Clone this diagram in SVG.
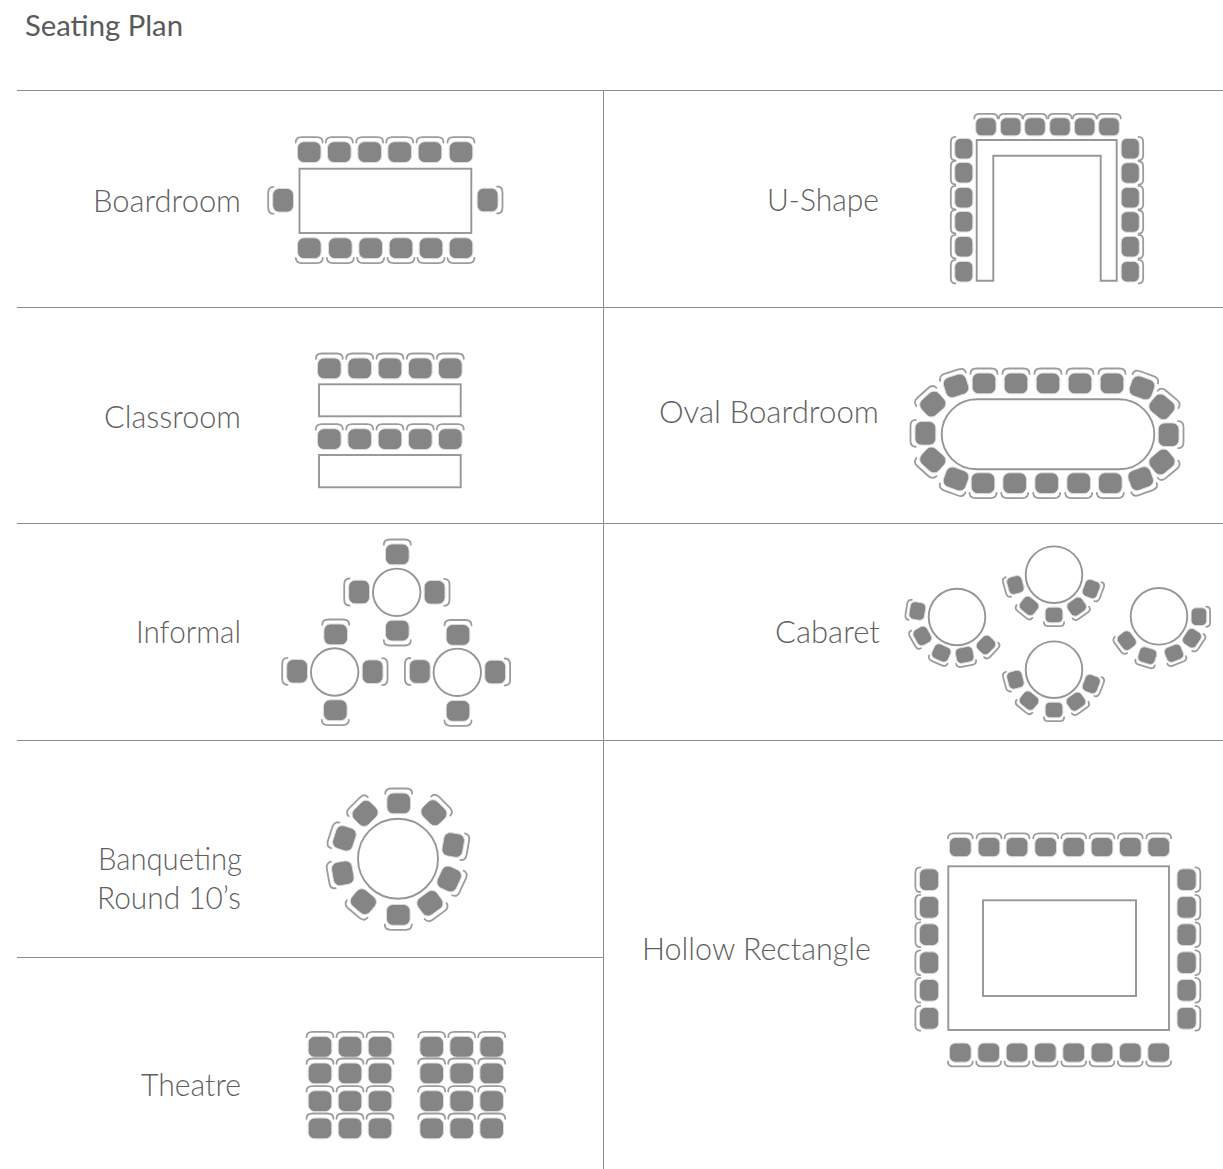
<svg xmlns="http://www.w3.org/2000/svg" width="1223" height="1169" viewBox="0 0 1223 1169">
<style>
.l{font-family:"Lato","Liberation Sans",sans-serif;font-weight:300;font-size:31px;fill:#5f5f5f}
.t{font-family:"Lato","Liberation Sans",sans-serif;font-weight:400;font-size:29px;fill:#5a5a5a}
.g{stroke:#8c8c8c;stroke-width:1;fill:none}
.o{stroke:#969696;stroke-width:1.9;fill:#fff}
.a{stroke:#9c9c9c;stroke-width:1.8;fill:none;stroke-linecap:round;vector-effect:non-scaling-stroke}
.b{fill:#858585;stroke:#dcdcdc;stroke-width:1;vector-effect:non-scaling-stroke}
</style>
<defs>
<g id="s"><rect class="b" x="-11.800" y="-10.300" width="23.600" height="20.800" rx="6.500"/><path class="a" d="M-13.500,-9.500C-13.500,-12.800 -11,-14.800 -7.500,-14.800H7.500C11,-14.800 13.500,-12.800 13.500,-9.500"/></g>
</defs>
<rect width="1223" height="1169" fill="#fff"/>
<text class="t" x="25" y="36" textLength="158" lengthAdjust="spacingAndGlyphs">Seating Plan</text>
<g id="grid">
<path class="g" d="M17,90.500H1223M17,307.500H1223M17,523.500H1223M17,740.500H1223M17,957.500H603.500M603.500,90V1169"/>
</g>
<g id="boardroom">
<text class="l" x="93" y="212" textLength="148" lengthAdjust="spacingAndGlyphs">Boardroom</text>
<rect class="o" x="299.500" y="168.700" width="171.800" height="64.300"/>
<use href="#s" x="309.200" y="152"/><use href="#s" x="339.300" y="152"/><use href="#s" x="369.700" y="152"/><use href="#s" x="399.700" y="152"/><use href="#s" x="430" y="152"/><use href="#s" x="461" y="152"/>
<use href="#s" transform="translate(309.300,248.300) rotate(180)"/><use href="#s" transform="translate(340.300,248.300) rotate(180)"/><use href="#s" transform="translate(370.700,248.300) rotate(180)"/><use href="#s" transform="translate(401,248.300) rotate(180)"/><use href="#s" transform="translate(431,248.300) rotate(180)"/><use href="#s" transform="translate(461,248.300) rotate(180)"/>
<use href="#s" transform="translate(283,200.300) rotate(-90)"/><use href="#s" transform="translate(487.700,200) rotate(90)"/>
</g>
<g id="classroom">
<text class="l" x="104" y="428" textLength="137" lengthAdjust="spacingAndGlyphs">Classroom</text>
<rect class="o" x="319" y="384.300" width="141.700" height="32"/>
<rect class="o" x="319" y="455" width="141.700" height="32.300"/>
<use href="#s" x="329.300" y="368.300"/><use href="#s" x="359.700" y="368.300"/><use href="#s" x="390" y="368.300"/><use href="#s" x="420.300" y="368.300"/><use href="#s" x="450.300" y="368.300"/>
<use href="#s" x="329.300" y="439"/><use href="#s" x="359.700" y="439"/><use href="#s" x="390" y="439"/><use href="#s" x="420.300" y="439"/><use href="#s" x="450.300" y="439"/>
</g>
<g id="informal">
<text class="l" x="136" y="643" textLength="105" lengthAdjust="spacingAndGlyphs">Informal</text>
<circle class="o" cx="396.700" cy="592.300" r="23.700"/><circle class="o" cx="334.700" cy="672" r="23.700"/><circle class="o" cx="457.300" cy="672.300" r="23.700"/>
<use href="#s" x="397.300" y="554.300"/><use href="#s" transform="translate(359,592) rotate(-90)"/><use href="#s" transform="translate(434.700,592.300) rotate(90)"/><use href="#s" transform="translate(397.300,630.700) rotate(180)"/>
<use href="#s" x="335.700" y="634.300"/><use href="#s" transform="translate(297,671.300) rotate(-90)"/><use href="#s" transform="translate(372.700,671.700) rotate(90)"/><use href="#s" transform="translate(335.300,710.300) rotate(180)"/>
<use href="#s" x="458" y="634.800"/><use href="#s" transform="translate(419.700,671.500) rotate(-90)"/><use href="#s" transform="translate(495.300,672) rotate(90)"/><use href="#s" transform="translate(458,711) rotate(180)"/>
</g>
<g id="banqueting">
<text class="l" x="98" y="870" textLength="144" lengthAdjust="spacingAndGlyphs">Banqueting</text>
<text class="l" x="97" y="909" textLength="144" lengthAdjust="spacingAndGlyphs">Round 10’s</text>
<circle class="o" cx="398" cy="858.700" r="40"/>
<use href="#s" x="398.700" y="803.300"/><use href="#s" transform="translate(434,812.700) rotate(45)"/><use href="#s" transform="translate(453.300,845) rotate(100)"/><use href="#s" transform="translate(449.300,879) rotate(115)"/><use href="#s" transform="translate(430,903.300) rotate(144)"/><use href="#s" transform="translate(398.300,915) rotate(180)"/><use href="#s" transform="translate(363.300,901.700) rotate(-140)"/><use href="#s" transform="translate(342.700,873.300) rotate(-100)"/><use href="#s" transform="translate(344.300,838.300) rotate(-72)"/><use href="#s" transform="translate(365,813.300) rotate(-45)"/>
</g>
<g id="theatre">
<text class="l" x="141" y="1096" textLength="100" lengthAdjust="spacingAndGlyphs">Theatre</text>
<use href="#s" x="320" y="1046.700"/><use href="#s" x="350" y="1046.700"/><use href="#s" x="380" y="1046.700"/><use href="#s" x="431.700" y="1046.700"/><use href="#s" x="461.700" y="1046.700"/><use href="#s" x="491.700" y="1046.700"/>
<use href="#s" x="320" y="1073.300"/><use href="#s" x="350" y="1073.300"/><use href="#s" x="380" y="1073.300"/><use href="#s" x="431.700" y="1073.300"/><use href="#s" x="461.700" y="1073.300"/><use href="#s" x="491.700" y="1073.300"/>
<use href="#s" x="320" y="1101"/><use href="#s" x="350" y="1101"/><use href="#s" x="380" y="1101"/><use href="#s" x="431.700" y="1101"/><use href="#s" x="461.700" y="1101"/><use href="#s" x="491.700" y="1101"/>
<use href="#s" x="320" y="1128.300"/><use href="#s" x="350" y="1128.300"/><use href="#s" x="380" y="1128.300"/><use href="#s" x="431.700" y="1128.300"/><use href="#s" x="461.700" y="1128.300"/><use href="#s" x="491.700" y="1128.300"/>
</g>
<g id="u-shape">
<text class="l" x="767" y="211" textLength="112" lengthAdjust="spacingAndGlyphs">U-Shape</text>
<path class="o" d="M976.700,280.700V140H1116.700V280.700H1100.700V155.700H993.300V280.700Z"/>
<use href="#s" transform="translate(986,126.700) scale(.87)"/><use href="#s" transform="translate(1010.700,126.700) scale(.87)"/><use href="#s" transform="translate(1035,126.700) scale(.87)"/><use href="#s" transform="translate(1060,126.700) scale(.87)"/><use href="#s" transform="translate(1084.700,126.700) scale(.87)"/><use href="#s" transform="translate(1109,126.700) scale(.87)"/>
<use href="#s" transform="translate(963.700,148.700) rotate(-90) scale(.87)"/><use href="#s" transform="translate(963.700,172.700) rotate(-90) scale(.87)"/><use href="#s" transform="translate(963.700,197.700) rotate(-90) scale(.87)"/><use href="#s" transform="translate(963.700,221.700) rotate(-90) scale(.87)"/><use href="#s" transform="translate(963.700,246.700) rotate(-90) scale(.87)"/><use href="#s" transform="translate(963.700,271.700) rotate(-90) scale(.87)"/>
<use href="#s" transform="translate(1130.300,148.700) rotate(90) scale(.87)"/><use href="#s" transform="translate(1130.300,173) rotate(90) scale(.87)"/><use href="#s" transform="translate(1130.300,197.700) rotate(90) scale(.87)"/><use href="#s" transform="translate(1130.300,222) rotate(90) scale(.87)"/><use href="#s" transform="translate(1130.300,246.700) rotate(90) scale(.87)"/><use href="#s" transform="translate(1130.300,271.700) rotate(90) scale(.87)"/>
</g>
<g id="oval-boardroom">
<text class="l" x="659" y="423" textLength="220" lengthAdjust="spacingAndGlyphs">Oval Boardroom</text>
<rect class="o" x="941.700" y="399.300" width="212.600" height="70" rx="35"/>
<use href="#s" x="984" y="383.300"/><use href="#s" x="1016" y="383.300"/><use href="#s" x="1048" y="383.300"/><use href="#s" x="1080" y="383.300"/><use href="#s" x="1112" y="383.300"/>
<use href="#s" transform="translate(983,483.300) rotate(180)"/><use href="#s" transform="translate(1014.700,483.300) rotate(180)"/><use href="#s" transform="translate(1046.700,483.300) rotate(180)"/><use href="#s" transform="translate(1078.700,483.300) rotate(180)"/><use href="#s" transform="translate(1110.300,483.300) rotate(180)"/>
<use href="#s" transform="translate(925.300,433.300) rotate(-90)"/><use href="#s" transform="translate(1168.700,434.700) rotate(90)"/>
<use href="#s" transform="translate(956,385.700) rotate(-18)"/><use href="#s" transform="translate(932.700,404) rotate(-42)"/><use href="#s" transform="translate(932.700,460) rotate(-138)"/><use href="#s" transform="translate(956,479) rotate(-160)"/>
<use href="#s" transform="translate(1142,387.700) rotate(20)"/><use href="#s" transform="translate(1162,406.700) rotate(40)"/><use href="#s" transform="translate(1162,462) rotate(140)"/><use href="#s" transform="translate(1140.700,478.700) rotate(160)"/>
</g>
<g id="cabaret">
<text class="l" x="775" y="643" textLength="105" lengthAdjust="spacingAndGlyphs">Cabaret</text>
<circle class="o" cx="957" cy="617" r="28.300"/><circle class="o" cx="1054" cy="574.700" r="28.300"/><circle class="o" cx="1159" cy="616.300" r="28.300"/><circle class="o" cx="1054" cy="669.700" r="28.300"/>
<use href="#s" transform="translate(1015.300,585) rotate(-105) scale(.75)"/><use href="#s" transform="translate(1029,606) rotate(-141) scale(.75)"/><use href="#s" transform="translate(1054,615) rotate(180) scale(.75)"/><use href="#s" transform="translate(1076.700,606.700) rotate(145) scale(.75)"/><use href="#s" transform="translate(1091.300,589) rotate(111) scale(.75)"/>
<use href="#s" transform="translate(1015.300,679.700) rotate(-105) scale(.75)"/><use href="#s" transform="translate(1029,700.700) rotate(-141) scale(.75)"/><use href="#s" transform="translate(1054,710) rotate(180) scale(.75)"/><use href="#s" transform="translate(1076,701.700) rotate(145) scale(.75)"/><use href="#s" transform="translate(1091.300,684) rotate(111) scale(.75)"/>
<use href="#s" transform="translate(917.300,611) rotate(-81) scale(.75)"/><use href="#s" transform="translate(922.300,636) rotate(-119) scale(.75)"/><use href="#s" transform="translate(941.300,653) rotate(-156) scale(.75)"/><use href="#s" transform="translate(964.700,655) rotate(169) scale(.75)"/><use href="#s" transform="translate(986,645) rotate(134) scale(.75)"/>
<use href="#s" transform="translate(1126.700,640.700) rotate(-127) scale(.75)"/><use href="#s" transform="translate(1147.300,655.700) rotate(-163) scale(.75)"/><use href="#s" transform="translate(1174,653.300) rotate(158) scale(.75)"/><use href="#s" transform="translate(1192,638.300) rotate(124) scale(.75)"/><use href="#s" transform="translate(1199,616.700) rotate(90) scale(.75)"/>
</g>
<g id="hollow-rectangle">
<text class="l" x="642" y="960" textLength="229" lengthAdjust="spacingAndGlyphs">Hollow Rectangle</text>
<rect class="o" x="948.300" y="866.300" width="220.700" height="163.700"/>
<rect class="o" x="983" y="900.300" width="153" height="95.700"/>
<use href="#s" transform="translate(960.300,847) scale(.92)"/><use href="#s" transform="translate(989,847) scale(.92)"/><use href="#s" transform="translate(1017,847) scale(.92)"/><use href="#s" transform="translate(1045.700,847) scale(.92)"/><use href="#s" transform="translate(1073.700,847) scale(.92)"/><use href="#s" transform="translate(1102,847) scale(.92)"/><use href="#s" transform="translate(1130.300,847) scale(.92)"/><use href="#s" transform="translate(1158.700,847) scale(.92)"/>
<use href="#s" transform="translate(960.300,1052.700) rotate(180) scale(.92)"/><use href="#s" transform="translate(988.700,1052.700) rotate(180) scale(.92)"/><use href="#s" transform="translate(1017,1052.700) rotate(180) scale(.92)"/><use href="#s" transform="translate(1045.300,1052.700) rotate(180) scale(.92)"/><use href="#s" transform="translate(1073.700,1052.700) rotate(180) scale(.92)"/><use href="#s" transform="translate(1102,1052.700) rotate(180) scale(.92)"/><use href="#s" transform="translate(1130.300,1052.700) rotate(180) scale(.92)"/><use href="#s" transform="translate(1158.700,1052.700) rotate(180) scale(.92)"/>
<use href="#s" transform="translate(929,879.700) rotate(-90) scale(.92)"/><use href="#s" transform="translate(929,907.300) rotate(-90) scale(.92)"/><use href="#s" transform="translate(929,934.700) rotate(-90) scale(.92)"/><use href="#s" transform="translate(929,962.700) rotate(-90) scale(.92)"/><use href="#s" transform="translate(929,990.300) rotate(-90) scale(.92)"/><use href="#s" transform="translate(929,1018.300) rotate(-90) scale(.92)"/>
<use href="#s" transform="translate(1186.700,879.700) rotate(90) scale(.92)"/><use href="#s" transform="translate(1186.700,907.300) rotate(90) scale(.92)"/><use href="#s" transform="translate(1186.700,934.700) rotate(90) scale(.92)"/><use href="#s" transform="translate(1186.700,962.700) rotate(90) scale(.92)"/><use href="#s" transform="translate(1186.700,990.300) rotate(90) scale(.92)"/><use href="#s" transform="translate(1186.700,1018.300) rotate(90) scale(.92)"/>
</g>
</svg>
